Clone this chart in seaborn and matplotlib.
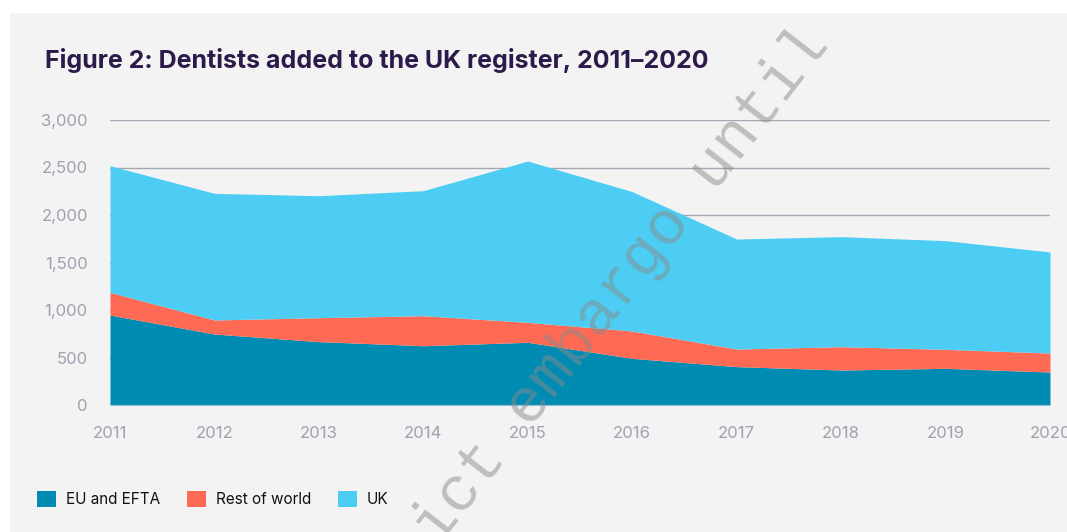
import numpy as np
import pandas as pd
import matplotlib
matplotlib.use("Agg")
import matplotlib.pyplot as plt
from matplotlib.patches import Rectangle, Patch
import seaborn as sns

years = [2011, 2012, 2013, 2014, 2015, 2016, 2017, 2018, 2019, 2020]
eu_efta = [947, 747, 667, 624, 660, 491, 404, 368, 386, 347]
rest_of_world = [239, 148, 252, 316, 210, 288, 185, 246, 200, 200]
uk = [1333, 1333, 1284, 1316, 1698, 1467, 1158, 1158, 1144, 1064]
series_names = ["EU and EFTA", "Rest of world", "UK"]
colors = {"EU and EFTA": "#008bb2", "Rest of world": "#ff6a55", "UK": "#4dcdf3"}
title = "Figure 2: Dentists added to the UK register, 2011\u20132020"
y_ticks = [0, 500, 1000, 1500, 2000, 2500, 3000]

df = pd.DataFrame({
    "year": years * 3,
    "count": eu_efta + rest_of_world + uk,
    "source": [series_names[0]] * 10 + [series_names[1]] * 10 + [series_names[2]] * 10,
})

sns.set_style("white")
plt.rcParams["font.family"] = ["Inter", "DejaVu Sans"]

BG = "#f3f3f3"
fig = plt.figure(figsize=(10.67, 5.32), dpi=100)
fig.patch.set_facecolor("white")
fig.add_artist(Rectangle((10 / 1067, 0), 1 - 10 / 1067, 1 - 13 / 532,
                         transform=fig.transFigure, facecolor=BG, edgecolor="none", zorder=-10))

ax = fig.add_axes([110 / 1067, 1 - 405 / 532, 940 / 1067, 285 / 532])
ax.set_facecolor(BG)

sns.histplot(data=df, x="year", weights="count", hue="source", hue_order=series_names[::-1],
             multiple="stack", element="poly", discrete=True, palette=colors,
             alpha=1, linewidth=0, legend=False, ax=ax)

ax.set_xlim(2011, 2020)
ax.set_ylim(0, 3000)
ax.set_yticks(y_ticks)
ax.set_yticklabels([f"{v:,}" for v in y_ticks])
ax.set_xticks(years)
ax.set_xticklabels([str(y) for y in years])
ax.set_xlabel("")
ax.set_ylabel("")
for y in y_ticks:
    ax.axhline(y, color="#a3a7b3", linewidth=1.0, zorder=0.5 if y > 0 else 5)
ax.grid(False)
for s in ax.spines.values():
    s.set_visible(False)
ax.tick_params(axis="both", length=0, labelsize=12, labelcolor="#9ea2b0")
ax.tick_params(axis="y", pad=16)
ax.tick_params(axis="x", pad=15)

fig.text(45 / 1067, 1 - 68 / 532, title, fontsize=18, fontweight="bold",
         color="#2b1a4a", va="baseline", ha="left")

handles = [Patch(facecolor=colors[n], edgecolor="none") for n in series_names]
fig.legend(handles, series_names, loc="center left", bbox_to_anchor=(23 / 1067, 1 - 499 / 532),
           ncol=3, frameon=False, fontsize=11, handlelength=1.25, handleheight=1.3,
           handletextpad=0.65, columnspacing=1.75, labelcolor="#111111")

fig.text(587 / 1067, 1 - 330 / 532, "strict embargo until", rotation=52,
         rotation_mode="anchor", ha="center", va="center", fontsize=45,
         family="Liberation Mono", color="#8a8a8a", alpha=0.5, zorder=20)

fig.savefig("out.png", dpi=100, facecolor="white")
